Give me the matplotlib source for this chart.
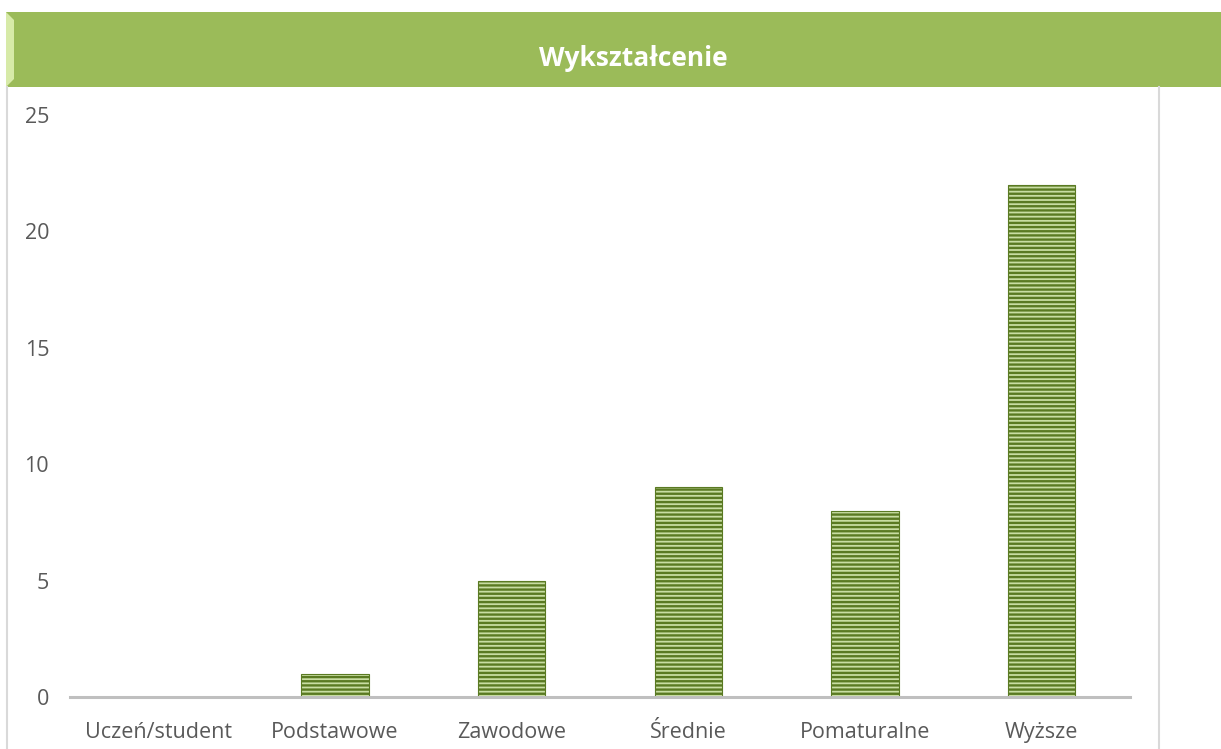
import matplotlib.pyplot as plt
from matplotlib.patches import Rectangle, Polygon
from matplotlib.lines import Line2D

categories = ['Uczeń/student', 'Podstawowe', 'Zawodowe', 'Średnie', 'Pomaturalne', 'Wyższe']
values = [0, 1, 5, 9, 8, 22]
yticks = [0, 5, 10, 15, 20, 25]
title = 'Wykształcenie'

plt.rcParams['font.family'] = ['Open Sans', 'DejaVu Sans']
plt.rcParams['hatch.linewidth'] = 1.7
plt.rcParams['hatch.color'] = '#4a6818'

W, H = 1221, 749
fig = plt.figure(figsize=(W / 100, H / 100), dpi=100)

# header band
fig.patches.append(Rectangle((6 / W, 1 - 87 / H), 1 - 6 / W, 75 / H,
                             transform=fig.transFigure, facecolor='#9bbb59',
                             edgecolor='none', zorder=0))
fig.patches.append(Polygon([(6 / W, 1 - 12 / H), (14 / W, 1 - 20 / H),
                            (14 / W, 1 - 79 / H), (6 / W, 1 - 87 / H)],
                           closed=True, transform=fig.transFigure,
                           facecolor='#d7eaa8', edgecolor='none', zorder=1))
fig.text(633 / W, 1 - 58 / H, title, color='white', fontsize=19,
         fontweight='bold', ha='center', va='center')

# frame lines
fig.add_artist(Line2D([7 / W, 7 / W], [0, 1 - 87 / H], transform=fig.transFigure,
                      color='#d9d9d9', lw=1.5))
fig.add_artist(Line2D([1159 / W, 1159 / W], [0, 1 - 87 / H], transform=fig.transFigure,
                      color='#d9d9d9', lw=1.5))

ax = fig.add_axes([70 / W, 1 - 697 / H, 1060 / W, 582 / H])
x = range(len(categories))
ax.bar(x, values, width=0.38, color='#c8dda2', edgecolor='#5a7a22',
       linewidth=0.8, hatch='----', zorder=2)

ax.set_xlim(-0.5, len(categories) - 0.5)
ax.set_ylim(0, 25)
ax.set_yticks(yticks)
ax.set_xticks(list(x))
ax.set_xticklabels(categories)
ax.tick_params(axis='both', length=0, labelsize=15.5, labelcolor='#595959')
ax.tick_params(axis='x', pad=18)
ax.tick_params(axis='y', pad=15)
for s in ['top', 'right', 'left']:
    ax.spines[s].set_visible(False)
ax.spines['bottom'].set_color('#bfbfbf')
ax.spines['bottom'].set_linewidth(2.2)
ax.spines['bottom'].set_zorder(3)
ax.patch.set_alpha(0)

fig.savefig('out.png', dpi=100)
